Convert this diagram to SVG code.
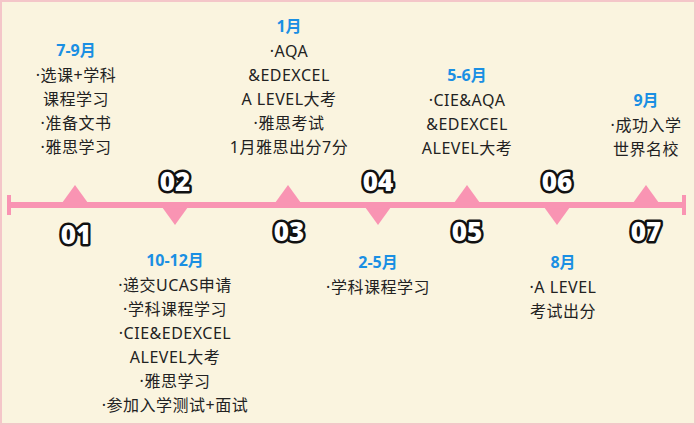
<svg xmlns="http://www.w3.org/2000/svg" width="696" height="425" viewBox="0 0 696 425">
<style>
.t{font-family:"Noto Sans","Noto Sans CJK SC",sans-serif;font-size:16px;letter-spacing:0.5px;fill:#222;text-anchor:middle}
.h{font-family:"Noto Sans","Noto Sans CJK SC",sans-serif;font-size:16px;font-weight:bold;fill:#1a8fe3;text-anchor:middle}
.n{font-family:"Noto Sans","Noto Sans CJK SC",sans-serif;font-size:26px;font-weight:900;fill:#fff;stroke:#111;stroke-width:5;paint-order:stroke;stroke-linejoin:round;text-anchor:middle}
.p{fill:#f994b3}
</style>
<rect x="0" y="0" width="696" height="425" fill="#faf4df"/>
<rect x="1" y="1" width="694" height="423" fill="none" stroke="#f4c6c9" stroke-width="2"/>
<g id="connectors">
<rect class="p" x="8" y="202" width="678" height="6"/>
<rect class="p" x="7" y="195" width="4" height="20"/>
<rect class="p" x="682" y="195" width="4" height="20"/>
<polygon class="p" points="62,203 75,185 88,203"/>
<polygon class="p" points="275,203 288,185 301,203"/>
<polygon class="p" points="454,203 467,185 480,203"/>
<polygon class="p" points="633,203 646,185 659,203"/>
<polygon class="p" points="162,207 175,225 188,207"/>
<polygon class="p" points="365,207 378,225 391,207"/>
<polygon class="p" points="544,207 557,225 570,207"/>
</g>
<g id="n01"><text class="n" x="76" y="244">01</text>
<text class="h" x="76" y="56">7-9月</text><text class="t" x="76" y="81">·选课+学科</text><text class="t" x="76" y="105">课程学习</text><text class="t" x="76" y="129">·准备文书</text><text class="t" x="76" y="153">·雅思学习</text></g>
<g id="n02"><text class="n" x="175" y="191">02</text>
<text class="h" x="175" y="266">10-12月</text><text class="t" x="175" y="291">·递交UCAS申请</text><text class="t" x="175" y="315">·学科课程学习</text><text class="t" x="175" y="339">·CIE&amp;EDEXCEL</text><text class="t" x="175" y="363">ALEVEL大考</text><text class="t" x="175" y="387">·雅思学习</text><text class="t" x="175" y="411">·参加入学测试+面试</text></g>
<g id="n03"><text class="n" x="289" y="241">03</text>
<text class="h" x="289" y="32">1月</text><text class="t" x="289" y="57">·AQA</text><text class="t" x="289" y="81">&amp;EDEXCEL</text><text class="t" x="289" y="105">A LEVEL大考</text><text class="t" x="289" y="129">·雅思考试</text><text class="t" x="289" y="153">1月雅思出分7分</text></g>
<g id="n04"><text class="n" x="378" y="191">04</text>
<text class="h" x="378" y="268">2-5月</text><text class="t" x="378" y="293">·学科课程学习</text></g>
<g id="n05"><text class="n" x="467" y="241">05</text>
<text class="h" x="467" y="81">5-6月</text><text class="t" x="467" y="106">·CIE&amp;AQA</text><text class="t" x="467" y="130">&amp;EDEXCEL</text><text class="t" x="467" y="154">ALEVEL大考</text></g>
<g id="n06"><text class="n" x="557" y="191">06</text>
<text class="h" x="563" y="268">8月</text><text class="t" x="563" y="293">·A LEVEL</text><text class="t" x="563" y="317">考试出分</text></g>
<g id="n07"><text class="n" x="646" y="241">07</text>
<text class="h" x="646" y="106">9月</text><text class="t" x="646" y="131">·成功入学</text><text class="t" x="646" y="155">世界名校</text></g>
</svg>
